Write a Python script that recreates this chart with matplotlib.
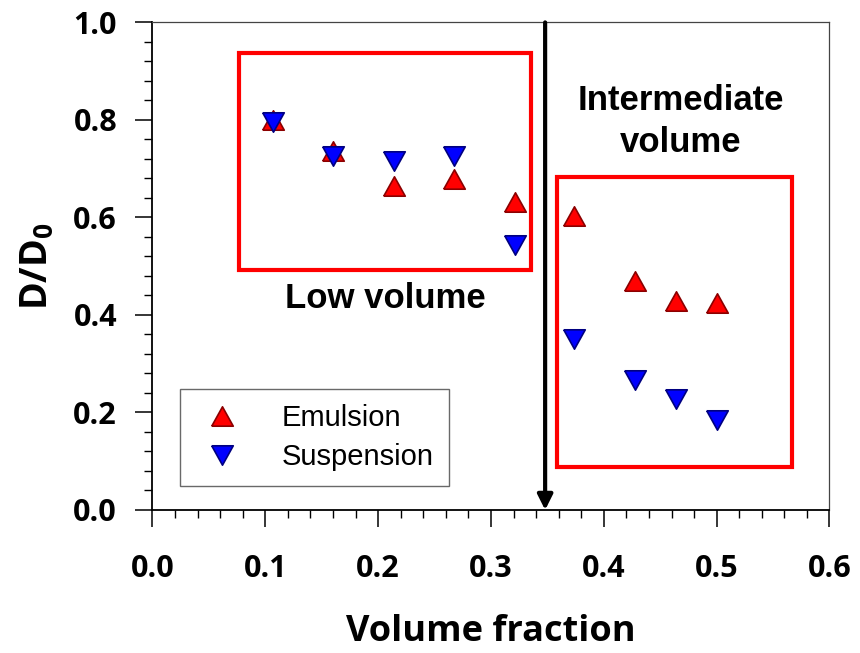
import numpy as np
import matplotlib
matplotlib.use("Agg")
from matplotlib import pyplot as plt
from matplotlib.patches import Rectangle
from matplotlib.ticker import MultipleLocator

###* DATA
vol_frac = [0.107, 0.160, 0.214, 0.267, 0.321, 0.374, 0.428, 0.464, 0.500]
emulsion = [0.800, 0.737, 0.664, 0.678, 0.631, 0.603, 0.469, 0.428, 0.425]
suspension = [0.795, 0.725, 0.715, 0.726, 0.544, 0.351, 0.267, 0.228, 0.184]
x_ticks = [0.0, 0.1, 0.2, 0.3, 0.4, 0.5, 0.6]
y_ticks = [0.0, 0.2, 0.4, 0.6, 0.8, 1.0]
# boxes (x0, y0, x1, y1) and the separating arrow
low_box = (0.0766, 0.4922, 0.3358, 0.9363)
mid_box = (0.3586, 0.0889, 0.5667, 0.6823)
split_x = 0.348

plt.rcParams["mathtext.fontset"] = "custom"
plt.rcParams["mathtext.rm"] = "Open Sans:bold"
plt.rcParams["mathtext.bf"] = "Open Sans:bold"

TICK_FONT = dict(family="Open Sans", weight="bold", size=22)
BOX_FONT = dict(family="Liberation Sans", weight="bold", size=25)

# slightly flattened triangles, like the original markers
tri_up = [(-1, -0.9), (1, -0.9), (0, 0.9), (-1, -0.9)]
tri_down = [(-1, 0.9), (1, 0.9), (0, -0.9), (-1, 0.9)]

###* FIGURE
fig = plt.figure(figsize=(8.6, 6.53), dpi=100)
ax = fig.add_axes([0.1773, 0.219, 0.7872, 0.7467])

ax.plot(vol_frac, emulsion, linestyle="none", marker=tri_up, markersize=15.5,
        markerfacecolor="#ff0000", markeredgecolor="#8b0000", markeredgewidth=1.2,
        label="Emulsion", zorder=4)
ax.plot(vol_frac, suspension, linestyle="none", marker=tri_down, markersize=15.5,
        markerfacecolor="#0000ff", markeredgecolor="#000080", markeredgewidth=1.2,
        label="Suspension", zorder=5)

#* red boxes
for x0, y0, x1, y1 in (low_box, mid_box):
    ax.add_patch(Rectangle((x0, y0), x1 - x0, y1 - y0, fill=False,
                           edgecolor="#ff0000", linewidth=3, zorder=3, clip_on=False))

#* arrow
ax.annotate("", xy=(split_x, 0.0), xytext=(split_x, 1.0),
            arrowprops=dict(arrowstyle="-|>,head_length=0.9,head_width=0.45",
                            color="black", lw=3, shrinkA=0, shrinkB=0),
            annotation_clip=False, zorder=6)

#* texts
ax.text(0.2067, 0.434, "Low volume", ha="center", va="center", **BOX_FONT)
ax.text(0.468, 0.797, "Intermediate\nvolume", ha="center", va="center",
        linespacing=1.32, **BOX_FONT)

#* axes
ax.set_xlim(0, 0.6)
ax.set_ylim(0, 1.0)
ax.set_xticks(x_ticks)
ax.set_yticks(y_ticks)
ax.set_xticklabels(["{:.1f}".format(v) for v in x_ticks], **TICK_FONT)
ax.set_yticklabels(["{:.1f}".format(v) for v in y_ticks], **TICK_FONT)
ax.xaxis.set_minor_locator(MultipleLocator(0.02))
ax.yaxis.set_minor_locator(MultipleLocator(0.04))
ax.tick_params(which="major", direction="out", length=12.5, width=1.1, pad=13)
ax.tick_params(which="minor", direction="out", length=5.5, width=1.0)
ax.tick_params(axis="x", which="major", pad=19)
for side in ("left", "bottom"):
    ax.spines[side].set_linewidth(1.3)
    ax.spines[side].set_color("black")
for side in ("top", "right"):
    ax.spines[side].set_linewidth(0.9)
    ax.spines[side].set_color("#444444")

ax.set_xlabel("Volume fraction", family="Open Sans", weight="bold", size=26, labelpad=22)
ax.set_ylabel(r"D/D$_{\mathbf{0}}$", family="Open Sans", weight="bold", size=27, labelpad=12)

leg = ax.legend(loc="lower left", bbox_to_anchor=(0.0406, 0.0492), borderaxespad=0,
                prop=dict(family="Liberation Sans", size=21), frameon=True, fancybox=False,
                handletextpad=1.1, labelspacing=0.4, borderpad=0.5, handlelength=1.9)
leg.get_frame().set_edgecolor("#444444")
leg.get_frame().set_linewidth(1.0)

fig.savefig("out.png", dpi=100)
